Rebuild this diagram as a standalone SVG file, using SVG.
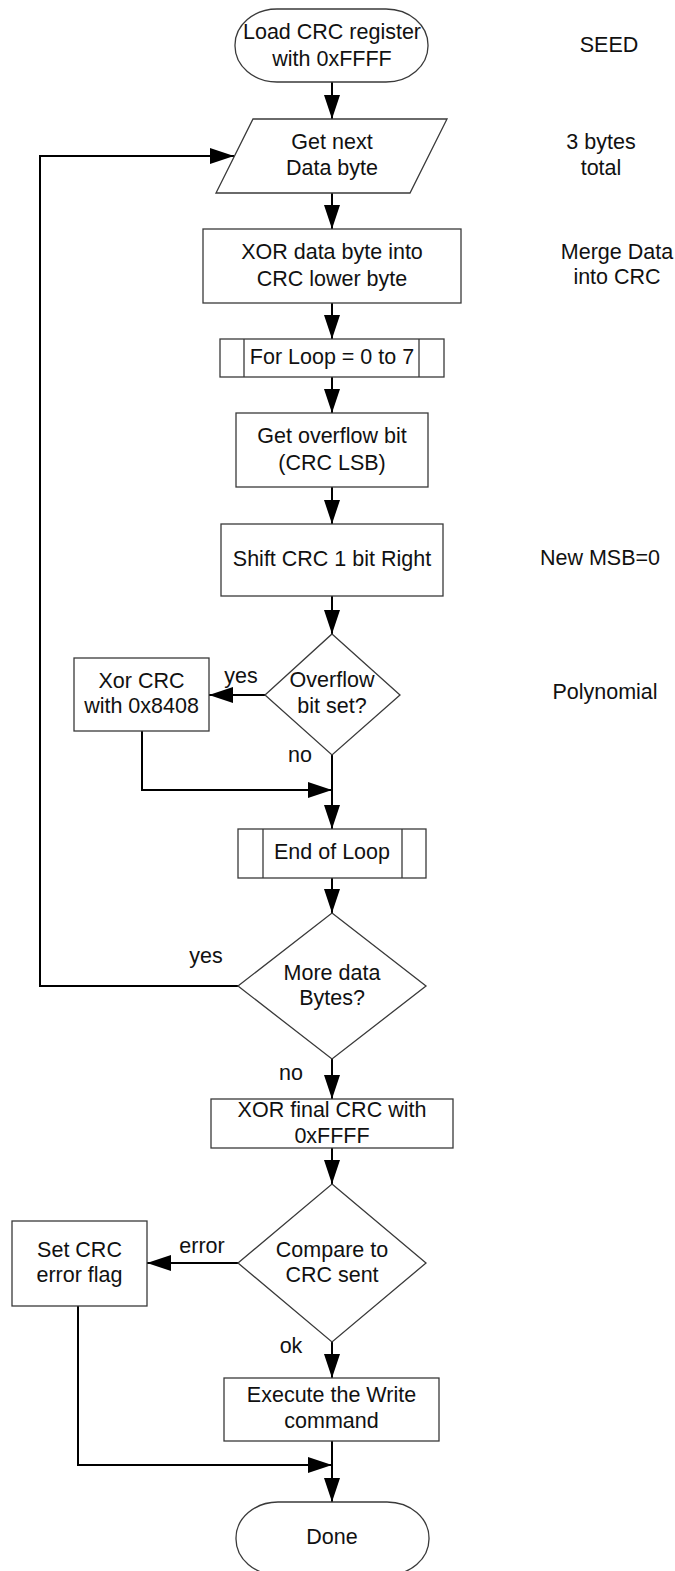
<svg xmlns="http://www.w3.org/2000/svg" width="675" height="1571" viewBox="0 0 675 1571">
<defs>
<style>
.s{fill:#fff;stroke:#3a3a3a;stroke-width:1.3}
.c{fill:none;stroke:#000;stroke-width:2}
.a{marker-end:url(#ah)}
text{font-family:"Liberation Sans",Arial,sans-serif;font-size:21.5px;fill:#111;text-anchor:middle}
</style>
<marker id="ah" markerUnits="userSpaceOnUse" markerWidth="24" markerHeight="16" refX="24" refY="8" orient="auto">
<path d="M0,0 L24,8 L0,16 z" fill="#000"/>
</marker>
</defs>
<rect width="675" height="1571" fill="#fff"/>
<g id="connectors">
<path class="c a" d="M332,82 V119"/>
<path class="c a" d="M332,193 V229"/>
<path class="c a" d="M332,303 V339"/>
<path class="c a" d="M332,377 V413"/>
<path class="c a" d="M332,487 V524"/>
<path class="c a" d="M332,596 V634"/>
<path class="c a" d="M265,695 H209"/>
<path class="c a" d="M332,755 V829"/>
<path class="c a" d="M142,731 V790 H332"/>
<path class="c a" d="M332,878 V913"/>
<path class="c a" d="M238,986 H40 V156 H234"/>
<path class="c a" d="M332,1059 V1099"/>
<path class="c a" d="M332,1148 V1184"/>
<path class="c a" d="M238,1263 H147"/>
<path class="c a" d="M332,1342 V1378"/>
<path class="c a" d="M78,1306 V1465 H332"/>
<path class="c a" d="M332,1441 V1502"/>
<text x="241" y="683">yes</text>
<text x="300" y="762">no</text>
<text x="206" y="963">yes</text>
<text x="291" y="1080">no</text>
<text x="202" y="1253">error</text>
<text x="291" y="1353">ok</text>
</g>
<g id="start">
<rect class="s" x="235" y="9" width="193" height="73" rx="42" ry="36"/>
<text x="332" y="39">Load CRC register</text>
<text x="332" y="66">with 0xFFFF</text>
</g>
<g id="getnext">
<polygon class="s" points="253,119 447,119 410,193 216,193"/>
<text x="332" y="149">Get next</text>
<text x="332" y="175">Data byte</text>
</g>
<g id="xordata">
<rect class="s" x="203" y="229" width="258" height="74"/>
<text x="332" y="259">XOR data byte into</text>
<text x="332" y="286">CRC lower byte</text>
</g>
<g id="forloop">
<rect class="s" x="220" y="339" width="224" height="38"/>
<path class="s" d="M244,339 V377 M419,339 V377"/>
<text x="332" y="364">For Loop = 0 to 7</text>
</g>
<g id="getoverflow">
<rect class="s" x="236" y="413" width="192" height="74"/>
<text x="332" y="443">Get overflow bit</text>
<text x="332" y="470">(CRC LSB)</text>
</g>
<g id="shift">
<rect class="s" x="221" y="524" width="222" height="72"/>
<text x="332" y="566">Shift CRC 1 bit Right</text>
</g>
<g id="overflowset">
<polygon class="s" points="332,634 400,695 332,755 265,695"/>
<text x="332" y="687">Overflow</text>
<text x="332" y="713">bit set?</text>
</g>
<g id="xorpoly">
<rect class="s" x="74" y="658" width="135" height="73"/>
<text x="141.5" y="688">Xor CRC</text>
<text x="141.5" y="713">with 0x8408</text>
</g>
<g id="endloop">
<rect class="s" x="238" y="829" width="188" height="49"/>
<path class="s" d="M263,829 V878 M402,829 V878"/>
<text x="332" y="859">End of Loop</text>
</g>
<g id="moredata">
<polygon class="s" points="332,913 426,986 332,1059 238,986"/>
<text x="332" y="980">More data</text>
<text x="332" y="1005">Bytes?</text>
</g>
<g id="xorfinal">
<rect class="s" x="211" y="1099" width="242" height="49"/>
<text x="332" y="1117">XOR final CRC with</text>
<text x="332" y="1143">0xFFFF</text>
</g>
<g id="compare">
<polygon class="s" points="332,1184 426,1263 332,1342 238,1263"/>
<text x="332" y="1257">Compare to</text>
<text x="332" y="1282">CRC sent</text>
</g>
<g id="seterror">
<rect class="s" x="12" y="1221" width="135" height="85"/>
<text x="79.5" y="1257">Set CRC</text>
<text x="79.5" y="1282">error flag</text>
</g>
<g id="execute">
<rect class="s" x="224" y="1378" width="215" height="63"/>
<text x="331.5" y="1402">Execute the Write</text>
<text x="331.5" y="1428">command</text>
</g>
<g id="done">
<rect class="s" x="236" y="1502" width="193" height="73" rx="42" ry="36"/>
<text x="332" y="1544">Done</text>
</g>
<g id="notes">
<text x="609" y="52">SEED</text>
<text x="601" y="149">3 bytes</text>
<text x="601" y="175">total</text>
<text x="617" y="259">Merge Data</text>
<text x="617" y="284">into CRC</text>
<text x="600" y="565">New MSB=0</text>
<text x="605" y="699">Polynomial</text>
</g>
</svg>
